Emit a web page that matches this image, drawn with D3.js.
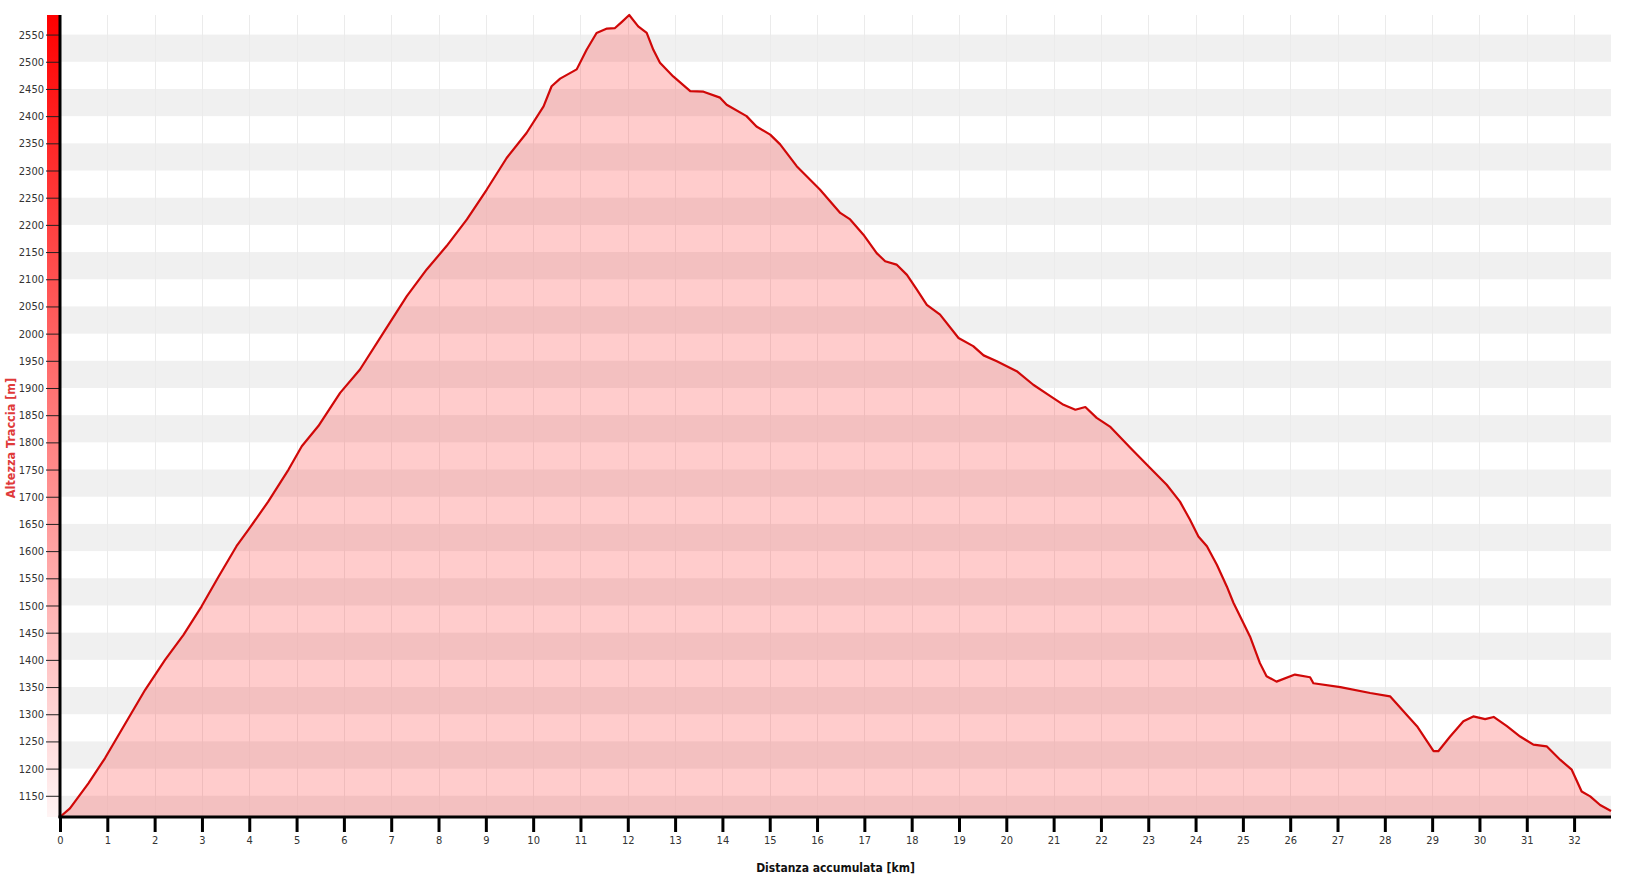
<!DOCTYPE html>
<html>
<head>
<meta charset="utf-8">
<script src="https://cdn.jsdelivr.net/npm/d3@7"></script>
<style>
  body { margin: 0; background: #fff; }
  svg { display: block; }
  .tick text { font-family: "DejaVu Sans Condensed", "DejaVu Sans", sans-serif; font-size: 11px; fill: #333; }
</style>
</head>
<body>
<svg id="chart" width="1638" height="877"></svg>
<script>

// profile: distance (km) and elevation (m)
const dist_km = [0, 0.21, 0.60, 0.95, 1.30, 1.80, 2.22, 2.61, 2.99, 3.35, 3.73, 3.98, 4.40, 4.83, 5.11, 5.46, 5.92,
                 6.34, 6.83, 7.33, 7.75, 8.17, 8.60, 9.02, 9.44, 9.86, 10.22, 10.39, 10.57, 10.92, 11.13, 11.34, 11.56,
                 11.73, 11.87, 12.03, 12.22, 12.40, 12.54, 12.68, 12.96, 13.32, 13.60, 13.95, 14.09, 14.51, 14.72, 15.01,
                 15.22, 15.57, 16.06, 16.49, 16.70, 16.98, 17.26, 17.44, 17.68, 17.90, 18.11, 18.32, 18.60, 18.99, 19.30,
                 19.52, 19.80, 20.22, 20.57, 20.93, 21.21, 21.46, 21.67, 21.91, 22.19, 22.62, 23.04, 23.39, 23.67, 23.88,
                 24.06, 24.24, 24.45, 24.66, 24.80, 25.15, 25.36, 25.50, 25.71, 26.10, 26.42, 26.49, 27.06, 27.69, 28.11,
                 28.46, 28.68, 29.03, 29.13, 29.38, 29.66, 29.87, 30.12, 30.30, 30.58, 30.86, 31.14, 31.42, 31.71, 31.95,
                 32.16, 32.34, 32.55, 32.78];
const elev_m = [1111, 1127, 1173, 1219, 1271, 1345, 1400, 1446, 1498, 1553, 1609, 1639, 1691, 1750, 1793, 1830, 1891,
                1934, 2001, 2069, 2118, 2161, 2210, 2265, 2323, 2369, 2418, 2455, 2469, 2486, 2522, 2553, 2561,
                2562, 2573, 2586, 2565, 2553, 2522, 2498, 2473, 2446, 2445, 2434, 2421, 2400, 2381, 2366,
                2348, 2308, 2265, 2222, 2210, 2182, 2148, 2133, 2127, 2108, 2081, 2053, 2035, 1992, 1977,
                1960, 1949, 1931, 1906, 1885, 1869, 1860, 1865, 1845, 1829, 1790, 1753, 1722, 1691, 1658,
                1627, 1609, 1575, 1535, 1505, 1443, 1394, 1370, 1360, 1373, 1368, 1357, 1350, 1339, 1333,
                1299, 1278, 1232, 1232, 1259, 1287, 1296, 1291, 1295, 1278, 1259, 1244, 1241, 1216, 1198,
                1158, 1149, 1133, 1122];

const y_ticks = d3.range(1150, 2551, 50);
const x_ticks = d3.range(0, 33, 1);

const x_title = "Distanza accumulata [km]";
const y_title = "Altezza Traccia [m]";

const svg = d3.select("#chart");
const plotLeft = 60, plotRight = 1611, plotTop = 15, plotBottom = 817;

const data = dist_km.map((d, i) => [d, elev_m[i]]);

const xScale = d3.scaleLinear().domain(d3.extent(dist_km)).range([plotLeft, plotRight]);
const yScale = d3.scaleLinear().domain(d3.extent(elev_m)).range([plotBottom, plotTop]);

// alternating horizontal bands (gray where the lower edge is a multiple of 100)
const bands = d3.range(1100, 2600, 100).map(v => [Math.max(v, yScale.domain()[0]), Math.min(v + 50, yScale.domain()[1])]);
svg.selectAll("rect.band")
   .data(bands)
   .enter()
   .append("rect")
   .attr("class", "band")
   .attr("x", plotLeft)
   .attr("width", plotRight - plotLeft)
   .attr("y", d => yScale(d[1]))
   .attr("height", d => yScale(d[0]) - yScale(d[1]))
   .attr("fill", "#f0f0f0");

// vertical grid
svg.selectAll("line.vgrid")
   .data(x_ticks.slice(1))
   .enter()
   .append("line")
   .attr("class", "vgrid")
   .attr("x1", d => Math.round(xScale(d)) + 0.5)
   .attr("x2", d => Math.round(xScale(d)) + 0.5)
   .attr("y1", plotTop)
   .attr("y2", plotBottom)
   .attr("stroke", "#ebebeb")
   .attr("stroke-width", 1);

// area + line
const area = d3.area()
               .x(d => xScale(d[0]))
               .y0(plotBottom)
               .y1(d => yScale(d[1]));

const line = d3.line()
               .x(d => xScale(d[0]))
               .y(d => yScale(d[1]));

svg.append("path")
   .datum(data)
   .attr("d", area)
   .attr("fill", "rgba(255,0,0,0.2)");

svg.append("path")
   .datum(data)
   .attr("d", line)
   .attr("fill", "none")
   .attr("stroke", "#d00808")
   .attr("stroke-width", 2.2)
   .attr("stroke-linejoin", "round");

// red gradient bar beside the y axis
const grad = svg.append("defs").append("linearGradient")
                .attr("id", "redbar")
                .attr("x1", 0).attr("y1", 0).attr("x2", 0).attr("y2", 1);
grad.append("stop").attr("offset", "0%").attr("stop-color", "#ff0000");
grad.append("stop").attr("offset", "100%").attr("stop-color", "#fff4f4");

svg.append("rect")
   .attr("x", 47)
   .attr("y", plotTop)
   .attr("width", 12)
   .attr("height", plotBottom - plotTop)
   .attr("fill", "url(#redbar)");

// y axis
const yAxis = svg.append("g")
                 .attr("transform", `translate(${plotLeft},0)`)
                 .call(d3.axisLeft(yScale).tickValues(y_ticks).tickFormat(d3.format("d"))
                         .tickSize(14).tickSizeOuter(0).tickPadding(2));
yAxis.select(".domain").remove();
yAxis.selectAll(".tick line").attr("stroke", "#222");

svg.append("line")
   .attr("x1", plotLeft).attr("x2", plotLeft)
   .attr("y1", plotTop).attr("y2", plotBottom + 1)
   .attr("stroke", "#000")
   .attr("stroke-width", 3);

// x axis
const xAxis = svg.append("g")
                 .attr("transform", `translate(0,${plotBottom})`)
                 .call(d3.axisBottom(xScale).tickValues(x_ticks).tickFormat(d3.format("d"))
                         .tickSize(15).tickSizeOuter(0).tickPadding(4));
xAxis.select(".domain").remove();
xAxis.selectAll(".tick line").attr("stroke", "#000").attr("stroke-width", 3);

svg.append("line")
   .attr("x1", plotLeft - 1.5).attr("x2", plotRight)
   .attr("y1", plotBottom).attr("y2", plotBottom)
   .attr("stroke", "#000")
   .attr("stroke-width", 3);

// titles
svg.append("text")
   .attr("x", (plotLeft + plotRight) / 2)
   .attr("y", 872)
   .attr("text-anchor", "middle")
   .style("font-family", "'DejaVu Sans Condensed', 'DejaVu Sans', sans-serif")
   .style("font-size", "12px")
   .style("font-weight", "bold")
   .style("fill", "#111")
   .text(x_title);

svg.append("text")
   .attr("transform", "translate(15,438) rotate(-90)")
   .attr("text-anchor", "middle")
   .style("font-family", "'DejaVu Sans Condensed', 'DejaVu Sans', sans-serif")
   .style("font-size", "12.5px")
   .style("font-weight", "bold")
   .style("fill", "#e03a3a")
   .text(y_title);

</script>
</body>
</html>
